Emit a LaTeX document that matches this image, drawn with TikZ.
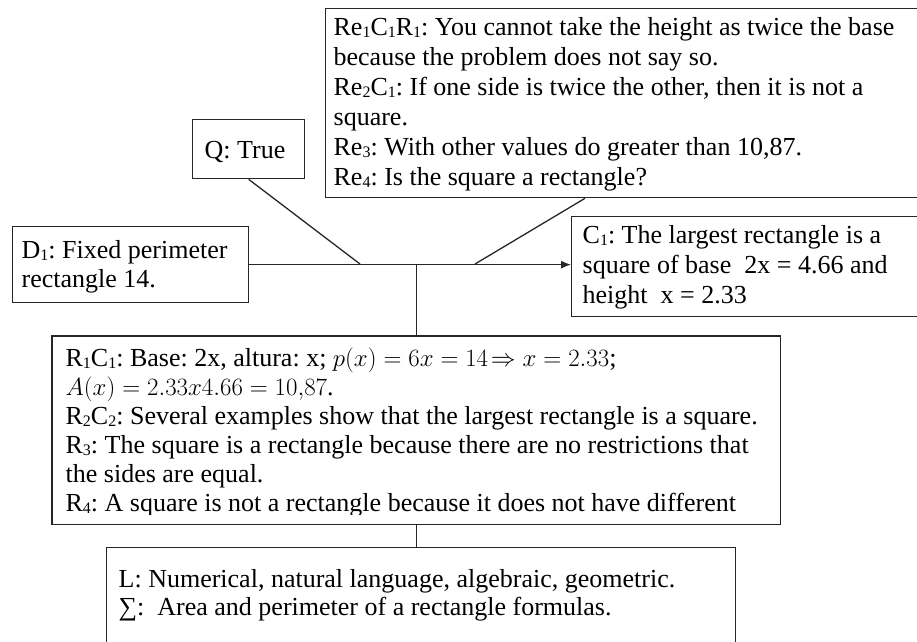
\documentclass[tikz,border=0pt]{standalone}
\usepackage{fontspec}
\setmainfont{Liberation Serif}
\usetikzlibrary{arrows.meta}

\newcommand{\low}[1]{\raisebox{-1.5pt}{\fontsize{16}{16}\selectfont #1}}

\tikzset{
  panel/.style={draw=black!85, line width=1.3pt, rectangle, anchor=north west,
    align=flush left, inner ysep=0pt, font=\fontsize{26}{30}\selectfont\frenchspacing},
  link/.style={draw=black!85, line width=1.3pt},
}

\begin{document}
\begin{tikzpicture}[x=1pt, y=-1pt]
    \useasboundingbox (0,0) rectangle (917,641);
    % boxes around the central line
    \node[panel, inner xsep=8pt, text width=591pt, text height=27pt, text depth=162pt] (re) at (325,8)
        {\mbox{Re\low{1}C\low{1}R\low{1}: You cannot take the height as twice the base}\\
         \mbox{because the problem does not say so.}\\
         \mbox{Re\low{2}C\low{1}: If one side is twice the other, then it is not a}\\
         \mbox{square.}\\
         \mbox{Re\low{3}: With other values do greater than 10,87.}\\
         \mbox{Re\low{4}: Is the square a rectangle?}};
    \node[panel, inner xsep=12pt, text width=88pt, text height=39pt, text depth=20pt] (q) at (192,119) {Q: True};
    \node[panel, inner xsep=9pt, text width=218pt, text height=32pt, text depth=44pt,
          font=\fontsize{26}{29}\selectfont\frenchspacing] (d) at (12,226)
        {\mbox{D\low{1}: Fixed perimeter}\\ \mbox{rectangle 14.}};
    \node[panel, inner xsep=11pt, text width=337pt, text height=27pt, text depth=73pt] (c) at (571,216)
        {\mbox{C\low{1}: The largest rectangle is a}\\
         \mbox{square of base\ \ 2x = 4.66 and}\\
         \mbox{height\ \ x = 2.33}};
    % the last line of this box is cut off at the bottom
    \begin{scope}
        \clip (0,0) rectangle (917,514);
        \node[panel, draw=none, inner xsep=13pt, text width=701pt, text height=30pt, text depth=157pt,
              font=\fontsize{26}{29}\selectfont\frenchspacing] (r) at (52,336)
            {\mbox{R\low{1}C\low{1}: Base: 2x, altura: x; $p(x) = 6x = 14\!\Rightarrow x = 2.33$;}\\
             \mbox{$A(x) = 2.33x4.66 = 10{,}87$.}\\
             \mbox{R\low{2}C\low{2}: Several examples show that the largest rectangle is a square.}\\
             \mbox{R\low{3}: The square is a rectangle because there are no restrictions that}\\
             \mbox{the sides are equal.}\\
             \mbox{R\low{4}: A square is not a rectangle because it does not have different}};
    \end{scope}
    \draw[link] (r.north west) rectangle (r.south east);
    \node[panel, inner xsep=12pt, text width=605pt, text height=40pt, text depth=73pt,
          font=\fontsize{26}{28}\selectfont\frenchspacing] (l) at (106,547)
        {\mbox{L: Numerical, natural language, algebraic, geometric.}\\
         \mbox{\symbol{"2211}: \ Area and perimeter of a rectangle formulas.}};
    % connectors
    \coordinate (jq) at (360,264);
    \coordinate (jr) at (475,264);
    \draw[link, -{Latex[length=10pt,width=8pt]}] (d.east) -- (d.east -| c.west);
    \draw[link] (q.south) -- (jq);
    \draw[link] ([xshift=260pt]re.south west) -- (jr);
    \draw[link] (r.north) -- (r.north |- d.east);
    \draw[link] (r.south) -- (r.south |- l.north);
\end{tikzpicture}
\end{document}
